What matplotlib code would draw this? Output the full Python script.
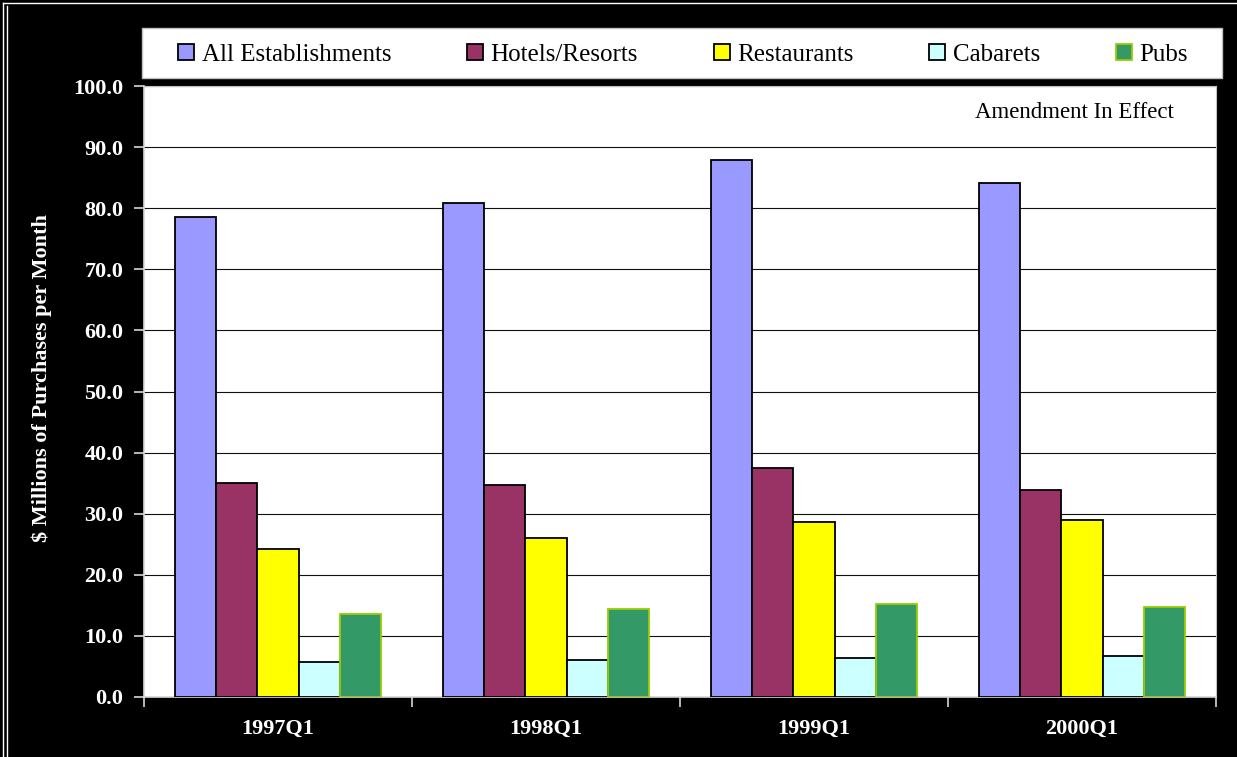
import matplotlib.pyplot as plt
from matplotlib.lines import Line2D
from matplotlib.patches import Rectangle
import numpy as np

quarters = ["1997Q1", "1998Q1", "1999Q1", "2000Q1"]
series_names = ["All Establishments", "Hotels/Resorts", "Restaurants", "Cabarets", "Pubs"]
all_establishments = [78.6, 80.9, 87.9, 84.1]
hotels_resorts = [35.0, 34.7, 37.4, 33.9]
restaurants = [24.3, 26.0, 28.6, 29.0]
cabarets = [5.8, 6.1, 6.4, 6.7]
pubs = [13.6, 14.4, 15.3, 14.8]

colors = ["#9999ff", "#993366", "#ffff00", "#ccffff", "#339966"]
edges = ["black", "black", "black", "black", "#99cc00"]

plt.rcParams['font.family'] = ['Liberation Serif', 'DejaVu Serif']

W, H = 1237, 757
fig = plt.figure(figsize=(W / 100, H / 100), dpi=100)
fig.patch.set_facecolor("black")

ax = fig.add_axes([144 / W, 1 - 697 / H, (1216 - 144) / W, (697 - 86) / H])
ax.set_facecolor("white")

values = [all_establishments, hotels_resorts, restaurants, cabarets, pubs]
x = np.arange(len(quarters))
bw = 0.153
handles = []
for i, vals in enumerate(values):
    bars = ax.bar(x + (i - 2) * bw, vals, width=bw, color=colors[i],
                  edgecolor=edges[i], linewidth=1.3, zorder=3,
                  label=series_names[i])
    handles.append(bars)

ax.set_xlim(-0.5, 3.5)
ax.set_ylim(0, 100)
ax.set_yticks(np.arange(0, 101, 10))
ax.set_yticklabels(["%.1f" % v for v in np.arange(0, 101, 10)])
ax.yaxis.grid(True, color="#111111", linewidth=0.8, zorder=0)
ax.set_axisbelow(True)

ax.set_xticks(x)
ax.set_xticklabels(quarters)
ax.set_xticks(np.arange(-0.5, 4, 1), minor=True)
ax.tick_params(axis="x", which="major", length=0, pad=16)
ax.tick_params(axis="x", which="minor", length=7, color="#d8d8d8", width=1.2)
ax.tick_params(axis="y", length=7, color="#d8d8d8", width=1.2, pad=8)
for lab in ax.get_xticklabels() + ax.get_yticklabels():
    lab.set_color("white")
    lab.set_fontweight("bold")
    lab.set_fontsize(16)

for side in ["top", "right"]:
    ax.spines[side].set_color("#c0c0c0")
for side in ["left", "bottom"]:
    ax.spines[side].set_color("#d8d8d8")
    ax.spines[side].set_linewidth(1.2)

fig.text(42 / W, 1 - 378 / H, "$ Millions of Purchases per Month", rotation=90,
         ha="center", va="center", color="white", fontweight="bold", fontsize=16)

ax.text((1174 - 144) / 1072, (697 - 113) / 611, "Amendment In Effect",
        transform=ax.transAxes, ha="right", va="center", fontsize=16.5, color="black")

# legend box
fig.add_artist(Rectangle((142 / W, 1 - 78 / H), 1080 / W, 50 / H, transform=fig.transFigure,
                         facecolor="white", edgecolor="#c0c0c0", linewidth=1))
fig.legend(handles=handles, loc="center left", ncol=5, mode="expand",
           bbox_to_anchor=(178 / W, 1 - 55 / H, (1188 - 178) / W, 0),
           frameon=False, fontsize=18, borderpad=0, borderaxespad=0,
           handlelength=0.65, handleheight=0.58, handletextpad=0.3)

# chart border lines
fig.add_artist(Line2D([3.5 / W, 3.5 / W], [0, 1 - 2.5 / H], transform=fig.transFigure, color="white", lw=1))
fig.add_artist(Line2D([6.5 / W, 6.5 / W], [0, 1 - 5.5 / H], transform=fig.transFigure, color="white", lw=1))
fig.add_artist(Line2D([3.5 / W, 1], [1 - 3.0 / H, 1 - 3.0 / H], transform=fig.transFigure, color="white", lw=1))

fig.savefig("out.png", dpi=100, facecolor=fig.get_facecolor())
